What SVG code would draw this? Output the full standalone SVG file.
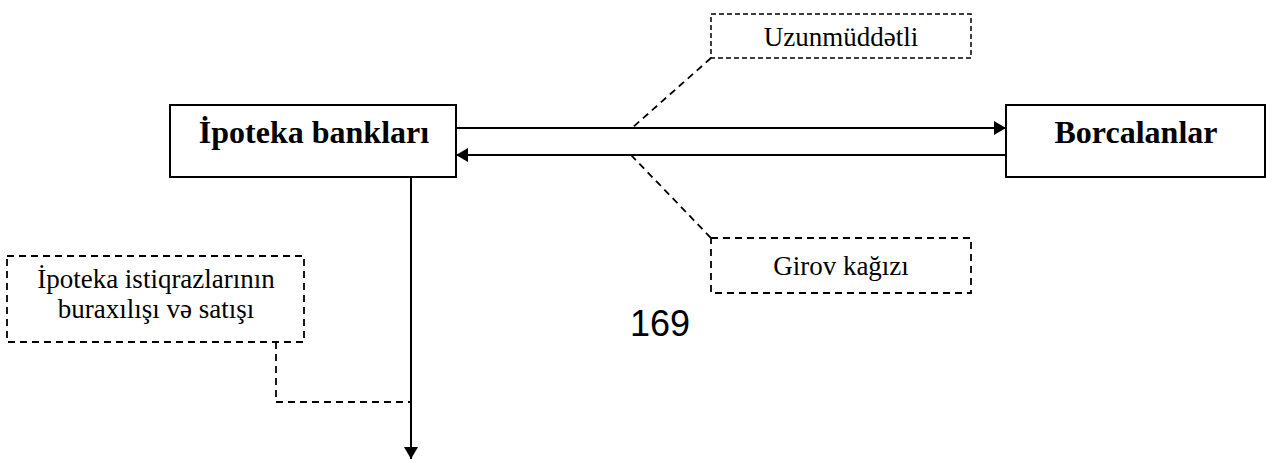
<svg xmlns="http://www.w3.org/2000/svg" width="1266" height="459" viewBox="0 0 1266 459">
<style>
.box{fill:#fff;stroke:#000;stroke-width:2}
.dbox{fill:#fff;stroke:#000;stroke-width:1.5;stroke-dasharray:5,3}
.dline{fill:none;stroke:#000;stroke-width:1.8;stroke-dasharray:7,5}
.line{fill:none;stroke:#000;stroke-width:2}
.bt{font-family:"Liberation Serif","DejaVu Serif",serif;font-weight:bold;font-size:32px;text-anchor:middle}
.t{font-family:"Liberation Serif","DejaVu Serif",serif;font-size:27px;text-anchor:middle}
</style>
<defs>
<marker id="ah" viewBox="0 0 12 14" refX="12" refY="7" markerWidth="12" markerHeight="14" markerUnits="userSpaceOnUse" orient="auto">
<path d="M0,0 L12,7 L0,14 z" fill="#000"/>
</marker>
</defs>
<rect width="1266" height="459" fill="#fff"/>
<g id="connectors">
<line class="line" x1="456" y1="128" x2="1006" y2="128" marker-end="url(#ah)"/>
<line class="line" x1="1006" y1="155" x2="456" y2="155" marker-end="url(#ah)"/>
<line class="line" x1="411" y1="177" x2="411" y2="459" marker-end="url(#ah)"/>
<polyline class="dline" points="711,58 632,128"/>
<polyline class="dline" points="631,155 711,238"/>
<polyline class="dline" points="276,342 276,402 411,402"/>
</g>
<g id="ipoteka-banklari">
<rect class="box" x="170" y="105" width="286" height="72"/>
<text class="bt" x="314" y="143">İpoteka bankları</text>
</g>
<g id="borcalanlar">
<rect class="box" x="1006" y="105" width="259" height="72"/>
<text class="bt" x="1136" y="143">Borcalanlar</text>
</g>
<g id="uzunmuddetli">
<rect class="dbox" x="711" y="14" width="260" height="44"/>
<text class="t" x="841" y="46">Uzunmüddətli</text>
</g>
<g id="girov">
<rect class="dbox" x="711" y="238" width="260" height="55" style="stroke-width:1.8;stroke-dasharray:7,5"/>
<text class="t" x="841" y="275">Girov kağızı</text>
</g>
<g id="istiqraz">
<rect class="dbox" x="7" y="256" width="297" height="86" style="stroke-width:1.8;stroke-dasharray:7,5"/>
<text class="t" x="156" y="288">İpoteka istiqrazlarının</text>
<text class="t" x="156" y="318">buraxılışı və satışı</text>
</g>
<text x="660" y="336" font-family="Liberation Sans,sans-serif" font-size="36" text-anchor="middle">169</text>
</svg>
